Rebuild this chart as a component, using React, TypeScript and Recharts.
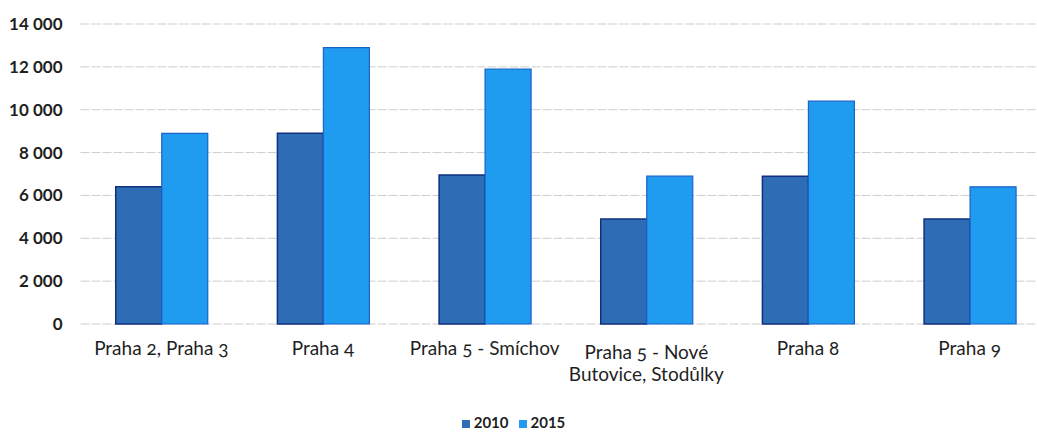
import React from "react";
import { BarChart, Bar, XAxis, YAxis, CartesianGrid, Legend } from "recharts";

// Prague districts and counts for the two census years
const categories = [
  "Praha 2, Praha 3",
  "Praha 4",
  "Praha 5 - Smíchov",
  "Praha 5 - Nové\nButovice, Stodůlky",
  "Praha 8",
  "Praha 9",
];
const values2010 = [6400, 8900, 6950, 4900, 6900, 4900];
const values2015 = [8900, 12900, 11900, 6900, 10400, 6400];
const yTicks = [0, 2000, 4000, 6000, 8000, 10000, 12000, 14000];

const data = categories.map((name, i) => ({
  name,
  y2010: values2010[i],
  y2015: values2015[i],
}));

const FONT = "Lato, 'Open Sans', sans-serif";
const TEXT = "#1f1f1f";

const formatThousands = (v: number) =>
  String(v).replace(/\B(?=(\d{3})+(?!\d))/g, " ");

// Category labels may span several lines (split on "\n")
const CategoryTick = (props: any) => {
  const { x, y, payload } = props;
  const lines = String(payload.value).split("\n");
  const top = y + 23 + (lines.length > 1 ? 4 : 0);
  return (
    <text
      x={x}
      y={top}
      textAnchor="middle"
      fill={TEXT}
      fontFamily={FONT}
      fontSize={19}
      style={{ fontVariantNumeric: "oldstyle-nums" }}
    >
      {lines.map((line, i) => (
        <tspan key={i} x={x} y={top + i * 21.5}>
          {line}
        </tspan>
      ))}
    </text>
  );
};

export default function App() {
  return (
    <div
      style={{
        position: "absolute",
        left: 0,
        top: 0,
        width: 1037,
        height: 437,
        overflow: "hidden",
        background: "#ffffff",
      }}
    >
      <BarChart
        width={1060}
        height={437}
        data={data}
        margin={{ top: 24, right: 9.5, left: 0, bottom: 20 }}
        barGap={0}
        barCategoryGap="21.8%"
      >
        <CartesianGrid
          vertical={false}
          stroke="#cdcdcd"
          strokeDasharray="9 2"
        />
        <XAxis
          dataKey="name"
          axisLine={false}
          tickLine={false}
          height={93}
          interval={0}
          tick={<CategoryTick />}
        />
        <YAxis
          width={80.5}
          domain={[0, 14000]}
          ticks={yTicks}
          axisLine={false}
          tickLine={false}
          tickMargin={12}
          tickFormatter={formatThousands}
          tick={{ fill: TEXT, fontFamily: FONT, fontSize: 17, fontWeight: 700 }}
        />
        <Legend
          verticalAlign="middle"
          align="center"
          layout="horizontal"
          iconType="square"
          iconSize={8}
          wrapperStyle={{
            top: 413,
            left: 0,
            width: 1037,
            fontFamily: FONT,
            fontSize: 15,
            fontWeight: 700,
          }}
          formatter={(value: string) => (
            <span style={{ color: TEXT }}>{value}</span>
          )}
        />
        <Bar
          dataKey="y2010"
          name="2010"
          fill="#2e6db6"
          stroke="#11307f"
          strokeWidth={1.5}
          isAnimationActive={false}
        />
        <Bar
          dataKey="y2015"
          name="2015"
          fill="#1f9bef"
          stroke="#1b62c9"
          strokeWidth={1.2}
          isAnimationActive={false}
        />
      </BarChart>
    </div>
  );
}
